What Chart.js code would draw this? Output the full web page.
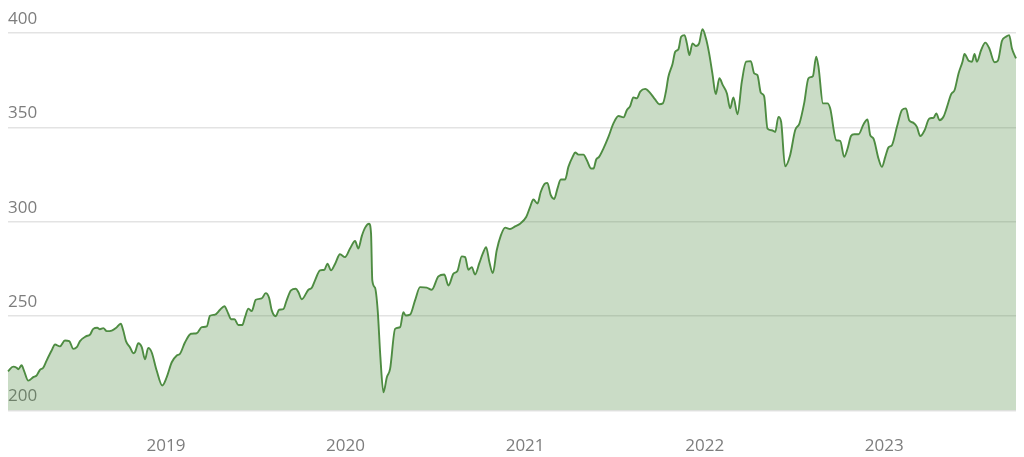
<!DOCTYPE html>
<html>
<head>
<meta charset="utf-8">
<script src="https://cdn.jsdelivr.net/npm/chart.js@4/dist/chart.umd.min.js"></script>
<style>
    html, body { margin: 0; padding: 0; background: #ffffff; }
    #wrap { width: 1024px; height: 457px; position: relative; }
</style>
</head>
<body>
<div id="wrap"><canvas id="price_chart"></canvas></div>
<script>
// time position of each reading, in decimal years
var timeline = [
    2018.120, 2018.149, 2018.168, 2018.177, 2018.196, 2018.209, 2018.233, 2018.261, 2018.280, 2018.298,
    2018.316, 2018.335, 2018.363, 2018.382, 2018.409, 2018.437, 2018.461, 2018.484, 2018.503, 2018.521,
    2018.554, 2018.577, 2018.595, 2018.617, 2018.632, 2018.651, 2018.670, 2018.698, 2018.721, 2018.748,
    2018.762, 2018.777, 2018.799, 2018.818, 2018.827, 2018.846, 2018.865, 2018.883, 2018.901, 2018.920,
    2018.948, 2018.979, 2019.004, 2019.032, 2019.060, 2019.078, 2019.106, 2019.139, 2019.171, 2019.199,
    2019.227, 2019.245, 2019.273, 2019.301, 2019.325, 2019.347, 2019.362, 2019.381, 2019.403, 2019.425,
    2019.440, 2019.459, 2019.477, 2019.500, 2019.533, 2019.555, 2019.574, 2019.589, 2019.611, 2019.630,
    2019.653, 2019.672, 2019.696, 2019.723, 2019.737, 2019.756, 2019.793, 2019.812, 2019.830, 2019.858,
    2019.882, 2019.899, 2019.919, 2019.942, 2019.969, 2019.997, 2020.025, 2020.053, 2020.071, 2020.090,
    2020.109, 2020.131, 2020.142, 2020.149, 2020.164, 2020.179, 2020.194, 2020.211, 2020.230, 2020.248,
    2020.276, 2020.304, 2020.322, 2020.335, 2020.359, 2020.387, 2020.415, 2020.452, 2020.480, 2020.517,
    2020.550, 2020.573, 2020.601, 2020.623, 2020.647, 2020.666, 2020.684, 2020.703, 2020.721, 2020.745,
    2020.764, 2020.783, 2020.801, 2020.820, 2020.842, 2020.865, 2020.889, 2020.916, 2020.944, 2020.972,
    2021.006, 2021.028, 2021.046, 2021.069, 2021.087, 2021.111, 2021.124, 2021.143, 2021.162, 2021.180,
    2021.199, 2021.223, 2021.241, 2021.266, 2021.279, 2021.297, 2021.325, 2021.344, 2021.368, 2021.381,
    2021.396, 2021.412, 2021.436, 2021.464, 2021.492, 2021.520, 2021.548, 2021.567, 2021.585, 2021.603,
    2021.622, 2021.641, 2021.669, 2021.696, 2021.724, 2021.747, 2021.767, 2021.784, 2021.798, 2021.821,
    2021.836, 2021.854, 2021.869, 2021.888, 2021.901, 2021.915, 2021.932, 2021.951, 2021.969, 2021.988,
    2022.007, 2022.025, 2022.043, 2022.062, 2022.082, 2022.101, 2022.124, 2022.142, 2022.160, 2022.183,
    2022.207, 2022.231, 2022.257, 2022.276, 2022.294, 2022.313, 2022.331, 2022.350, 2022.374, 2022.393,
    2022.411, 2022.426, 2022.448, 2022.476, 2022.504, 2022.528, 2022.554, 2022.578, 2022.603, 2022.621,
    2022.634, 2022.659, 2022.684, 2022.699, 2022.733, 2022.755, 2022.777, 2022.796, 2022.815, 2022.833,
    2022.857, 2022.885, 2022.907, 2022.922, 2022.940, 2022.968, 2022.987, 2023.006, 2023.024, 2023.043,
    2023.071, 2023.099, 2023.121, 2023.139, 2023.163, 2023.182, 2023.201, 2023.225, 2023.251, 2023.275,
    2023.290, 2023.308, 2023.330, 2023.349, 2023.373, 2023.392, 2023.414, 2023.436, 2023.447, 2023.470,
    2023.489, 2023.503, 2023.516, 2023.540, 2023.563, 2023.585, 2023.615, 2023.633, 2023.656, 2023.678,
    2023.696, 2023.711, 2023.734
];

var prices = [
    220.8, 223.3, 222.7, 221.9, 224.0, 221.2, 215.9, 217.7, 218.7, 221.6,
    222.7, 226.5, 231.8, 235.0, 234.0, 237.1, 236.8, 232.7, 233.6, 236.8,
    239.3, 240.3, 243.3, 243.9, 243.1, 243.7, 242.1, 242.4, 243.7, 246.0,
    242.4, 236.8, 233.6, 230.4, 230.9, 235.7, 233.6, 227.2, 233.2, 230.9,
    221.2, 213.3, 217.7, 225.6, 229.2, 230.1, 236.2, 240.7, 241.0, 244.2,
    244.6, 250.2, 250.8, 253.4, 255.3, 251.3, 248.4, 248.4, 245.3, 245.3,
    249.5, 254.0, 252.7, 258.7, 259.4, 262.2, 259.8, 253.1, 250.0, 253.4,
    253.7, 258.4, 263.7, 264.5, 262.8, 259.0, 264.0, 265.1, 269.0, 274.3,
    274.6, 277.8, 274.3, 277.8, 282.8, 281.3, 285.8, 289.8, 285.8, 292.3,
    296.9, 299.0, 293.7, 269.0, 265.1, 253.1, 228.3, 209.7, 217.7, 222.1,
    243.3, 244.2, 252.1, 250.4, 250.8, 258.4, 265.4, 265.1, 264.0, 271.1,
    272.1, 266.3, 272.5, 273.9, 281.7, 281.3, 274.6, 276.0, 272.1, 278.1,
    283.1, 286.6, 278.7, 272.8, 284.9, 292.8, 296.9, 296.2, 297.6, 299.0,
    302.5, 307.9, 311.8, 309.7, 315.8, 320.3, 320.6, 314.1, 312.1, 317.6,
    322.4, 322.4, 329.1, 334.7, 336.7, 335.6, 335.6, 332.6, 328.2, 328.2,
    333.0, 334.4, 338.8, 345.0, 352.1, 356.0, 355.3, 359.2, 361.3, 365.9,
    365.4, 368.9, 370.4, 368.3, 364.8, 362.3, 362.7, 368.9, 376.8, 383.6,
    390.1, 391.4, 398.0, 398.9, 394.5, 388.3, 394.5, 393.1, 394.5, 402.0,
    397.2, 389.2, 378.6, 367.6, 376.0, 372.4, 368.0, 360.1, 365.9, 357.0,
    374.2, 384.8, 385.1, 378.6, 377.7, 368.3, 366.6, 349.4, 348.5, 347.6,
    355.6, 352.9, 329.4, 335.3, 348.5, 352.1, 362.7, 376.0, 377.2, 387.4,
    382.1, 362.7, 362.7, 360.1, 343.2, 342.9, 334.4, 338.8, 345.4, 346.4,
    346.4, 351.7, 354.2, 345.9, 344.1, 333.5, 329.1, 334.4, 339.4, 340.6,
    350.3, 359.2, 360.1, 353.8, 352.4, 350.3, 345.4, 348.5, 354.7, 355.1,
    357.4, 353.8, 355.6, 360.6, 367.6, 369.8, 378.6, 384.8, 388.9, 385.3,
    384.8, 388.9, 384.8, 391.0, 394.9, 391.9, 384.5, 385.3, 395.9, 398.0,
    398.9, 391.9, 386.6
];

var yearTicks = [2019, 2020, 2021, 2022, 2023];
var priceTicks = [200, 250, 300, 350, 400];

var lineColor = "rgb(78, 140, 66)";
var fillColor = "rgba(78, 140, 66, 0.3)";
var textColor = "#7d7d7d";

var price_chart;

function buildPoints() {
    var pts = [];
    for (var i = 0 ; i < timeline.length ; i++) {
        pts.push({ x: timeline[i], y: prices[i] });
    }
    return pts;
}

function createPriceChart() {
    var ctx = document.getElementById("price_chart").getContext("2d");

    price_chart = new Chart(ctx, {
        type: 'line',
        data: {
            datasets: [{
                label: 'Price',
                data: buildPoints(),
                borderColor: lineColor,
                backgroundColor: fillColor,
                borderWidth: 1.9,
                pointRadius: 0,
                fill: 'start',
                cubicInterpolationMode: 'monotone',
                clip: false
            }]
        },
        options: {
            responsive: true,
            maintainAspectRatio: false,
            animation: false,
            layout: { padding: { left: 8, right: 8, top: 33, bottom: -24 } },
            plugins: {
                legend: { display: false },
                tooltip: { enabled: false }
            },
            scales: {
                x: {
                    type: 'linear',
                    min: timeline[0],
                    max: timeline[timeline.length - 1],
                    afterBuildTicks: function(scale) {
                        scale.ticks = yearTicks.map(function(v) { return { value: v }; });
                    },
                    grid: { display: false, drawTicks: false },
                    border: { display: false },
                    ticks: {
                        autoSkip: false,
                        maxRotation: 0,
                        padding: 25,
                        color: textColor,
                        font: { family: "'Open Sans', sans-serif", size: 17 },
                        callback: function(value) { return String(value); }
                    }
                },
                y: {
                    min: priceTicks[0],
                    max: priceTicks[priceTicks.length - 1],
                    afterBuildTicks: function(scale) {
                        scale.ticks = priceTicks.map(function(v) { return { value: v }; });
                    },
                    grid: { color: '#e3e3e3', lineWidth: 1.5, drawTicks: false },
                    border: { display: false },
                    ticks: {
                        mirror: true,
                        padding: 0,
                        labelOffset: -14,
                        color: textColor,
                        font: { family: "'Open Sans', sans-serif", size: 17 }
                    }
                }
            }
        }
    });
}

createPriceChart();
</script>
</body>
</html>
